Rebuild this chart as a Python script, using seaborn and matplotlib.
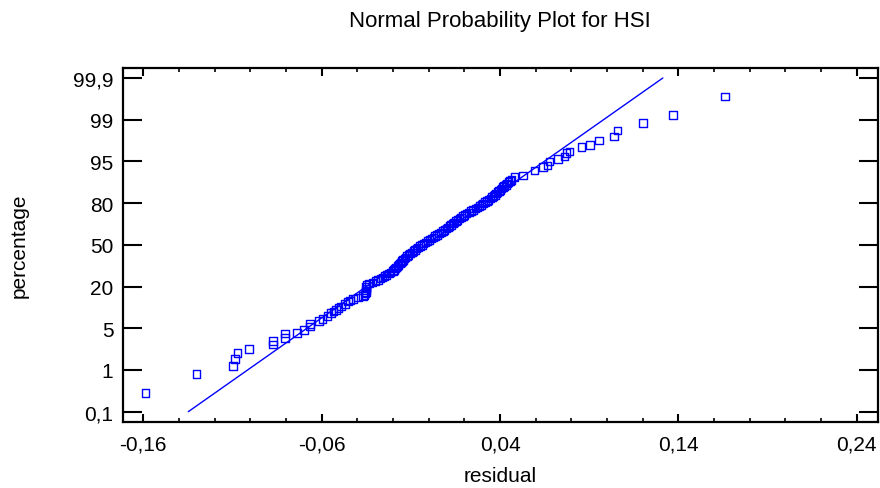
import numpy as np
import pandas as pd
import matplotlib
matplotlib.use("Agg")
import matplotlib.pyplot as plt
from matplotlib.ticker import MultipleLocator
import seaborn as sns

# residuals (sorted)
residual = [
    -0.1587, -0.1301, -0.1096, -0.1086, -0.1071, -0.1006, -0.0872, -0.0872,
    -0.0806, -0.0806, -0.0737, -0.0698, -0.0666, -0.0666, -0.0614, -0.0595,
    -0.0567, -0.0548, -0.0534, -0.0520, -0.0506, -0.0492, -0.0470, -0.0452,
    -0.0440, -0.0424, -0.0396,
    -0.0369, -0.0360, -0.0355, -0.0350, -0.0353, -0.0349, -0.0352, -0.0348,
    -0.0333, -0.0316, -0.0299, -0.0283,
    -0.0270, -0.0259, -0.0247, -0.0236, -0.0224, -0.0213, -0.0201,
    -0.0195, -0.0188, -0.0182, -0.0175, -0.0169, -0.0162, -0.0156, -0.0149,
    -0.0143, -0.0136, -0.0130,
    -0.0122, -0.0113, -0.0104, -0.0095, -0.0086, -0.0077, -0.0068, -0.0059,
    -0.0050,
    -0.0039, -0.0028, -0.0017, -0.0006, 0.0005, 0.0016,
    0.0027, 0.0037, 0.0048, 0.0058, 0.0068, 0.0079, 0.0089,
    0.0099, 0.0108, 0.0117, 0.0126, 0.0135, 0.0143, 0.0152,
    0.0162, 0.0172, 0.0182, 0.0192, 0.0201,
    0.0212, 0.0225, 0.0237, 0.0249, 0.0262, 0.0274, 0.0286,
    0.0296, 0.0306, 0.0316, 0.0326, 0.0336, 0.0346, 0.0355,
    0.0364, 0.0372, 0.0379, 0.0387, 0.0394, 0.0402, 0.0409, 0.0417,
    0.0424, 0.0432,
    0.0440, 0.0448, 0.0457, 0.0465,
    0.0482, 0.0529, 0.0594, 0.0641, 0.0667, 0.0678, 0.0725, 0.0762,
    0.0772, 0.0790, 0.0856, 0.0906, 0.0955, 0.1039, 0.1058, 0.1201,
    0.1369, 0.1663,
]

# vertical position on the probability scale (0 = 0,1 % ... 8 = 99,9 %)
score = [
    0.45, 0.90, 1.10, 1.27, 1.41, 1.51, 1.61, 1.70,
    1.77, 1.87, 1.89, 1.96, 2.04, 2.10, 2.18, 2.22,
    2.29, 2.37, 2.40, 2.44, 2.48, 2.52, 2.58, 2.64,
    2.67, 2.70, 2.74,
    2.77, 2.80, 2.83, 2.87, 2.91, 2.95, 2.99, 3.03,
    3.07, 3.10, 3.13, 3.16,
    3.19, 3.22, 3.25, 3.28, 3.31, 3.34, 3.37,
    3.40, 3.43, 3.46, 3.49, 3.52, 3.55, 3.58, 3.61,
    3.64, 3.67, 3.70,
    3.73, 3.76, 3.79, 3.82, 3.85, 3.88, 3.91, 3.94,
    3.97,
    4.00, 4.03, 4.06, 4.09, 4.12, 4.15,
    4.18, 4.21, 4.24, 4.27, 4.30, 4.33, 4.36,
    4.39, 4.42, 4.45, 4.48, 4.51, 4.54, 4.57,
    4.60, 4.63, 4.66, 4.69, 4.72,
    4.75, 4.78, 4.81, 4.84, 4.87, 4.90, 4.93,
    4.96, 4.99, 5.02, 5.05, 5.08, 5.11, 5.14,
    5.17, 5.20, 5.23, 5.26, 5.29, 5.32, 5.35, 5.38,
    5.41, 5.44,
    5.47, 5.50, 5.53, 5.56,
    5.62, 5.66, 5.78, 5.86, 5.90, 6.00, 6.06, 6.12,
    6.20, 6.24, 6.34, 6.40, 6.50, 6.60, 6.74, 6.92,
    7.12, 7.56,
]

# fitted normal line
fit_x = [-0.1348, 0.1313]
fit_y = [0.0, 8.0]

y_labels = ["0,1", "1", "5", "20", "50", "80", "95", "99", "99,9"]
x_ticks = [-0.16, -0.06, 0.04, 0.14, 0.24]
x_labels = ["-0,16", "-0,06", "0,04", "0,14", "0,24"]

df = pd.DataFrame({"residual": residual, "score": score})
df_fit = pd.DataFrame({"x": fit_x, "y": fit_y})

sns.set_theme(style="white")
plt.rcParams["font.family"] = ["Liberation Sans", "DejaVu Sans"]
plt.rcParams["text.color"] = "black"
plt.rcParams["axes.labelcolor"] = "black"
plt.rcParams["xtick.color"] = "black"
plt.rcParams["ytick.color"] = "black"

fig = plt.figure(figsize=(8.8, 4.89), dpi=100)
ax = fig.add_axes([0.1398, 0.1356, 0.8576, 0.7233])

sns.lineplot(data=df_fit, x="x", y="y", color="#0000ff", linewidth=1.0,
             sort=False, estimator=None, ax=ax)
sns.scatterplot(data=df, x="residual", y="score", marker="s", s=30,
                facecolor="none", edgecolor="#0000ff", linewidth=1.0, ax=ax)

ax.set_xlim(-0.1714, 0.2518)
ax.set_ylim(-0.24, 8.24)

ax.set_xticks(x_ticks)
ax.set_xticklabels(x_labels)
ax.xaxis.set_minor_locator(MultipleLocator(0.02))
ax.set_yticks(range(len(y_labels)))
ax.set_yticklabels(y_labels)

ax.tick_params(axis="x", which="major", direction="in", length=6, width=1.5,
               top=True, bottom=True, labelsize=15, pad=9)
ax.tick_params(axis="x", which="minor", direction="in", length=3, width=1.2,
               top=True, bottom=True)
ax.tick_params(axis="y", which="major", direction="in", length=14, width=1.5,
               left=True, right=True, labelsize=15, pad=7)

for sp in ax.spines.values():
    sp.set_color("black")
    sp.set_linewidth(1.6)

ax.set_xlabel("residual", fontsize=15)
ax.set_ylabel("percentage", fontsize=15)
ax.xaxis.set_label_coords(0.5, -0.126)
ax.yaxis.set_label_coords(-0.125, 0.5)
fig.text(0.5676, 0.957, "Normal Probability Plot for HSI", fontsize=16,
         ha="center", va="center")

fig.savefig("out.png", dpi=100)
